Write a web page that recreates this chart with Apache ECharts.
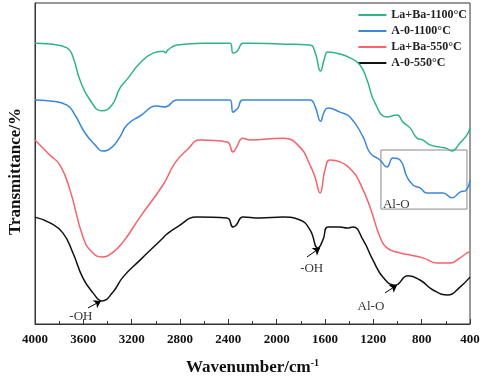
<!DOCTYPE html>
<html>
<head>
<meta charset="utf-8">
<script src="https://cdn.jsdelivr.net/npm/echarts@6/dist/echarts.min.js"></script>
<style>
  html, body { margin: 0; padding: 0; background: #fff; }
  #chart { width: 484px; height: 378px; }
</style>
</head>
<body>
<div id="chart"></div>
<script>
// series names (legend order)
var names = ['La+Ba-1100°C', 'A-0-1100°C', 'La+Ba-550°C', 'A-0-550°C'];
var colors = ['#2fb487', '#3a87d9', '#f7626c', '#111111'];

// [wavenumber cm-1, transmittance (arb.)]
var laBa1100 = [
  [4000, 87.5], [3876, 87.2], [3735, 86.0], [3686, 83.2], [3628, 76.0], [3545, 69.8],
  [3446, 66.4], [3363, 68.2], [3297, 73.5], [3230, 76.6], [3131, 81.3], [3023, 84.4],
  [2941, 85.0], [2920, 84.5], [2900, 85.4], [2825, 86.9], [2610, 87.5], [2386, 87.5],
  [2361, 84.4], [2336, 84.7], [2320, 85.4], [2279, 87.5], [2221, 87.5], [1972, 87.2],
  [1724, 86.9], [1683, 84.7], [1636, 78.8], [1608, 82.2], [1575, 84.7], [1476, 84.1],
  [1393, 82.9], [1310, 80.7], [1252, 76.0], [1186, 68.8], [1087, 64.5], [1004, 65.1],
  [955, 62.9], [896, 61.1], [839, 57.9], [789, 57.3], [731, 55.8], [648, 55.1],
  [599, 54.8], [549, 53.9], [483, 56.4], [425, 58.9], [400, 61.1]
];
var a01100 = [
  [4000, 69.8], [3876, 69.5], [3735, 68.2], [3669, 65.1], [3586, 59.5], [3503, 55.8],
  [3440, 53.9], [3363, 55.1], [3297, 58.3], [3239, 62.0], [3131, 64.8], [2990, 67.9],
  [2924, 67.6], [2825, 69.8], [2386, 69.8], [2361, 66.0], [2336, 66.7], [2320, 67.3],
  [2279, 69.8], [1724, 69.8], [1683, 67.9], [1636, 63.2], [1608, 66.0], [1575, 67.3],
  [1476, 66.0], [1393, 64.5], [1285, 58.3], [1227, 53.3], [1145, 51.1], [1087, 48.9],
  [1037, 51.7], [979, 51.1], [921, 45.8], [872, 43.3], [814, 42.4], [756, 40.8],
  [690, 40.8], [623, 40.8], [549, 39.3], [483, 41.1], [433, 41.7], [400, 44.9]
];
var laBa550 = [
  [4000, 57.3], [3876, 52.6], [3793, 49.5], [3710, 41.7], [3603, 27.1], [3528, 22.4],
  [3446, 20.9], [3363, 22.1], [3272, 25.5], [3131, 33.3], [2941, 43.3], [2841, 50.2],
  [2742, 54.2], [2634, 57.3], [2411, 56.7], [2361, 53.6], [2336, 54.8], [2279, 57.9],
  [2221, 57.3], [1948, 57.9], [1807, 55.1], [1724, 49.5], [1683, 45.8], [1641, 40.8],
  [1600, 48.0], [1559, 51.1], [1476, 50.5], [1368, 47.4], [1310, 43.9], [1227, 36.4],
  [1145, 27.1], [1087, 23.7], [979, 22.1], [896, 21.5], [789, 20.6], [673, 19.0],
  [566, 19.0], [483, 20.6], [425, 22.1], [400, 22.4]
];
var a0550 = [
  [4000, 33.3], [3876, 31.5], [3768, 28.3], [3686, 22.1], [3603, 14.3], [3520, 9.7],
  [3446, 7.2], [3354, 10.0], [3272, 14.6], [3131, 19.9], [2941, 26.8], [2916, 27.8],
  [2825, 30.2], [2659, 33.3], [2411, 33.0], [2361, 30.2], [2336, 30.8], [2279, 33.3],
  [2138, 33.0], [1948, 33.3], [1807, 32.4], [1724, 29.3], [1658, 23.7], [1617, 26.2],
  [1575, 30.2], [1476, 30.2], [1418, 29.9], [1368, 30.2], [1285, 26.2], [1203, 19.9],
  [1120, 14.6], [1021, 12.1], [913, 15.0], [814, 13.7], [706, 10.6], [582, 9.0],
  [483, 11.5], [400, 14.6]
];
var seriesData = [laBa1100, a01100, laBa550, a0550];

// annotation arrows [from, to] and labels [wavenumber, T, text]
var arrows = [
  [[3561, 5.0], [3454, 7.2]],
  [[1749, 20.9], [1641, 23.7]],
  [[1103, 9.7], [1004, 12.1]]
];
var notes = [
  [3620, 2.2, '-OH'],
  [1710, 17.4, '-OH'],
  [1220, 5.3, 'Al-O'],
  [1010, 37.3, 'Al-O']
];
var boxArea = [[1137, 54.2], [425, 35.8]];

var chart = echarts.init(document.getElementById('chart'));
var serif = '"Liberation Serif", "Times New Roman", serif';

var series = names.map(function (n, i) {
  var s = {
    name: n,
    type: 'line',
    data: seriesData[i],
    smooth: 0.5,
    showSymbol: false,
    symbol: 'none',
    lineStyle: { width: 1.5, color: colors[i] },
    itemStyle: { color: colors[i] },
    z: 4 - i
  };
  if (i === 1) {
    s.markArea = {
      silent: true,
      itemStyle: { color: 'rgba(0,0,0,0)', borderColor: '#8a8a8a', borderWidth: 1 },
      data: [[{ coord: boxArea[0] }, { coord: boxArea[1] }]]
    };
  }
  if (i === 3) {
    s.markLine = {
      silent: true,
      symbol: ['none', 'arrow'],
      symbolSize: 7,
      label: { show: false },
      lineStyle: { color: '#000', width: 1, type: 'solid' },
      data: arrows.map(function (a) { return [{ coord: a[0] }, { coord: a[1] }]; })
    };
  }
  return s;
});

chart.setOption({
  animation: false,
  legend: {
    data: names,
    orient: 'vertical',
    right: 12,
    top: 4,
    icon: 'rect',
    itemWidth: 28,
    itemHeight: 2,
    itemGap: 4,
    textStyle: { fontFamily: serif, fontWeight: 'bold', fontSize: 12, color: '#222' }
  },
  grid: {
    left: 35, right: 14, top: 3, bottom: 54,
    outerBoundsMode: 'none',
    show: true, borderColor: '#333', borderWidth: 1
  },
  xAxis: {
    type: 'value',
    inverse: true,
    min: 400,
    max: 4000,
    interval: 400,
    name: '{a|Wavenumber/cm}{s|-1}',
    nameLocation: 'middle',
    nameGap: 34,
    nameTextStyle: {
      rich: {
        a: { fontFamily: serif, fontWeight: 'bold', fontSize: 17, color: '#111' },
        s: { fontFamily: serif, fontWeight: 'bold', fontSize: 10, color: '#111', verticalAlign: 'top', padding: [0, 0, 9, 0] }
      }
    },
    axisLine: { lineStyle: { color: '#333', width: 1 } },
    axisTick: { inside: true, length: 5, lineStyle: { color: '#333' } },
    minorTick: { show: true, splitNumber: 2, length: 3, lineStyle: { color: '#333' } },
    splitLine: { show: false },
    axisLabel: {
      fontFamily: serif, fontWeight: 'bold', fontSize: 13, color: '#111', margin: 9,
      formatter: function (v) { return String(v); }
    }
  },
  yAxis: {
    type: 'value',
    min: 0,
    max: 100,
    name: 'Transmittance/%',
    nameLocation: 'middle',
    nameGap: 11,
    nameTextStyle: { fontFamily: serif, fontWeight: 'bold', fontSize: 17, color: '#111', padding: [0, 16, 0, 0] },
    axisLine: { show: true, lineStyle: { color: '#333', width: 1 } },
    axisTick: { show: false },
    axisLabel: { show: false },
    splitLine: { show: false }
  },
  series: series
});

// place annotation texts at their data positions
chart.setOption({
  graphic: notes.map(function (n) {
    var p = chart.convertToPixel({ gridIndex: 0 }, [n[0], n[1]]);
    return {
      type: 'text',
      x: p[0],
      y: p[1],
      style: {
        text: n[2],
        fill: '#333',
        font: '13px ' + serif,
        align: 'center',
        verticalAlign: 'middle'
      },
      z: 10
    };
  })
});
</script>
</body>
</html>
